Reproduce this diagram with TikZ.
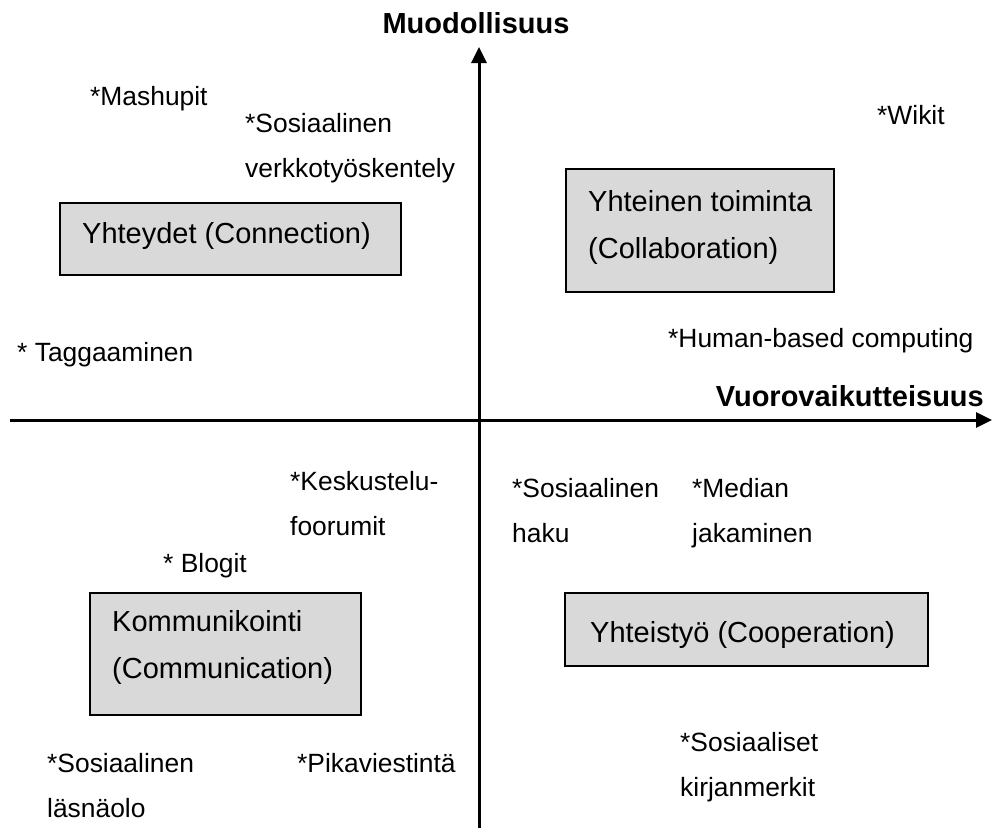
\documentclass[tikz,border=0pt]{standalone}
\usepackage{fontspec}
\setmainfont{Liberation Sans}
\usetikzlibrary{arrows.meta}
\definecolor{boxgray}{HTML}{D9D9D9}
\begin{document}
\begin{tikzpicture}[x=1pt,y=-1pt,
  lbl/.style={font=\fontsize{26.4}{45}\selectfont, inner sep=0pt, anchor=base west},
  lbltwo/.style={font=\fontsize{26.4}{45}\selectfont, inner sep=0pt, anchor=north west, align=left},
  quad/.style={draw=black, line width=1.4pt, fill=boxgray, inner sep=0pt},
  quadtxt/.style={font=\fontsize{29}{47}\selectfont, inner sep=0pt, anchor=base west},
  quadtxttwo/.style={font=\fontsize{29}{47}\selectfont, inner sep=0pt, anchor=north west, align=left},
  axisline/.style={line width=3pt, -{Triangle[length=16pt,width=15pt]}},
  axlbl/.style={font=\fontsize{29}{35}\selectfont\bfseries, inner sep=0pt}]
\useasboundingbox (0,0) rectangle (992,828);
\fill[white] (0,0) rectangle (992,828);
% axes
\coordinate (vb) at (479,828);
\coordinate (vt) at (479,47);
\coordinate (hl) at (10,420);
\coordinate (hr) at (992,420);
\draw[axisline] (vb) -- (vt);
\draw[axisline] (hl) -- (hr);
\node[axlbl, anchor=base] (ylab) at (476,33) {Muodollisuus};
\node[axlbl, anchor=base east] (xlab) at (984,406) {Vuorovaikutteisuus};
% quadrant boxes
\node[quad, minimum width=341pt, minimum height=72pt] (b1) at (230.5,239) {};
\node[quad, minimum width=268pt, minimum height=123pt] (b2) at (700,230.5) {};
\node[quad, minimum width=271pt, minimum height=122pt] (b3) at (225.5,654) {};
\node[quad, minimum width=363pt, minimum height=73pt] (b4) at (746.5,629.5) {};
\node[quadtxt] (t1) at (82,243) {Yhteydet (Connection)};
\node[quadtxttwo] (t2) at (588,178.1) {\strut Yhteinen toiminta\\(Collaboration)};
\node[quadtxttwo] (t3) at (112,598.1) {\strut Kommunikointi\\(Communication)};
\node[quadtxt] (t4) at (590,642) {Yhteistyö (Cooperation)};
% labels
\node[lbl] (mash) at (90,105) {*Mashupit};
\node[lbltwo] (sverk) at (245,100.5) {\strut*Sosiaalinen\\verkkotyöskentely};
\node[lbl] (wiki) at (877,124) {*Wikit};
\node[lbl] (tag) at (17,361) {* Taggaaminen};
\node[lbl] (hbc) at (668,347) {*Human-based computing};
\node[lbltwo] (kesk) at (290,458.5) {\strut*Keskustelu-\\foorumit};
\node[lbl] (blog) at (163,572) {* Blogit};
\node[lbltwo] (shaku) at (512,465.5) {\strut*Sosiaalinen\\haku};
\node[lbltwo] (media) at (692,465.5) {\strut*Median\\jakaminen};
\node[lbltwo] (lasna) at (47,740.5) {\strut*Sosiaalinen\\läsnäolo};
\node[lbl] (pika) at (297,772) {*Pikaviestintä};
\node[lbltwo] (kirja) at (680,719.5) {\strut*Sosiaaliset\\kirjanmerkit};
\end{tikzpicture}
\end{document}
